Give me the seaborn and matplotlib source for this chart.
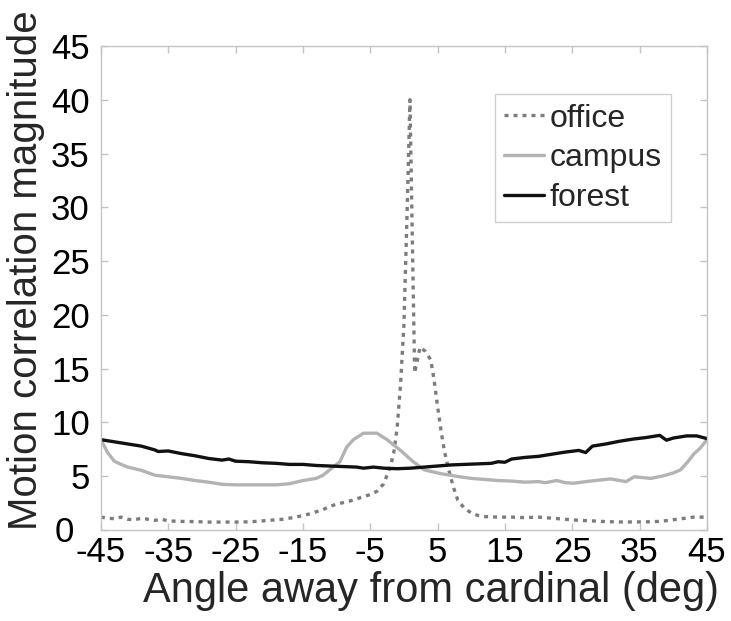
import matplotlib
matplotlib.use("Agg")
import matplotlib.pyplot as plt
import matplotlib.transforms as mtransforms
import seaborn as sns

# Angle samples (deg) and motion correlation magnitude for each scene type
office_angle = [-45, -44, -43, -42, -41, -40, -39, -38, -37, -36, -35, -33, -31, -29, -27,
                -25, -23, -22, -20, -18, -16, -14, -12, -11, -10, -9, -8, -7, -6, -5, -4,
                -3, -2, -1.5, -1, -0.5, 0, 0.5, 0.9, 1.6, 2.4, 3.2, 4.0, 4.5, 5.0, 5.5,
                6.0, 6.5, 7.0, 7.5, 8.0, 9.0, 10, 11, 12, 14, 16, 18, 20, 22, 24, 26, 28,
                30, 32, 34, 36, 38, 40, 41, 42, 43, 44, 45]
office_value = [1.2, 1.1, 1.05, 1.2, 1.0, 0.95, 1.1, 1.0, 0.9, 1.0, 0.85, 0.8, 0.78, 0.74, 0.74,
                0.74, 0.76, 0.8, 0.9, 1.0, 1.2, 1.5, 1.9, 2.2, 2.4, 2.55, 2.7, 2.9, 3.1, 3.3, 3.6,
                4.3, 5.9, 7.2, 9.5, 13.5, 19.0, 30.0, 40.0, 14.6, 17.0, 16.6, 15.8, 13.9, 11.5, 9.3,
                7.4, 6.0, 4.8, 3.7, 2.8, 2.0, 1.6, 1.35, 1.25, 1.2, 1.2, 1.15, 1.2, 1.1, 1.0, 0.9, 0.85,
                0.78, 0.75, 0.75, 0.76, 0.8, 0.95, 1.05, 1.1, 1.2, 1.2, 1.2]

campus_angle = [-45, -44, -43, -42, -41, -39, -37, -35, -33, -31, -29, -27, -25, -23, -21,
                -19, -17, -15, -13, -12, -11, -10, -9.5, -8.5, -7.5, -6, -4, -2.5, -0.5, 1.4,
                3, 5.4, 8.3, 10, 12, 14, 16, 18, 20, 21, 22.7, 24, 25.2, 27.7, 30.7, 33,
                34.2, 36.7, 38.6, 40, 41.1, 42.1, 43.1, 44, 45]
campus_value = [8.4, 7.2, 6.4, 6.1, 5.85, 5.55, 5.1, 4.95, 4.8, 4.6, 4.45, 4.25, 4.2, 4.2, 4.2,
                4.2, 4.3, 4.6, 4.8, 5.1, 5.6, 6.1, 6.35, 7.7, 8.4, 9.0, 9.0, 8.4, 7.4, 6.35,
                5.6, 5.25, 4.95, 4.8, 4.7, 4.6, 4.55, 4.45, 4.5, 4.4, 4.6, 4.4, 4.35, 4.55, 4.75, 4.5,
                4.95, 4.8, 5.05, 5.3, 5.6, 6.3, 7.1, 7.6, 8.4]

forest_angle = [-45, -43, -41, -39, -37, -36.5, -35, -33, -31, -29, -27, -26, -25, -23, -21,
                -19, -17, -15, -13, -11, -9, -7, -6, -4.5, -3, -1, 1, 3, 5, 7, 9, 11, 13, 14,
                15, 16, 18, 20, 22, 24, 26, 27, 28, 30, 32, 34, 36, 38, 39, 40, 42, 43.5, 45]
forest_value = [8.4, 8.2, 8.0, 7.8, 7.45, 7.3, 7.35, 7.1, 6.9, 6.65, 6.5, 6.6, 6.4, 6.35, 6.25,
                6.2, 6.1, 6.1, 6.0, 5.95, 5.9, 5.85, 5.75, 5.85, 5.75, 5.7, 5.75, 5.85, 5.95, 6.05,
                6.1, 6.15, 6.2, 6.35, 6.3, 6.6, 6.75, 6.85, 7.05, 7.25, 7.4, 7.2, 7.8, 8.0, 8.25,
                8.45, 8.6, 8.8, 8.35, 8.55, 8.75, 8.75, 8.5]

x_ticks = [-45, -35, -25, -15, -5, 5, 15, 25, 35, 45]
y_ticks = [0, 5, 10, 15, 20, 25, 30, 35, 40, 45]

sns.set_style("white")
plt.rcParams["font.family"] = ["Liberation Sans", "DejaVu Sans"]

fig = plt.figure(figsize=(7.31, 6.21), dpi=100)
ax = fig.add_axes([0.138, 0.1465, 0.829, 0.7795])

sns.lineplot(x=office_angle, y=office_value, ax=ax, color="#7c7c7c", lw=2.4,
             linestyle=(0, (1.2, 1.5)), label="office", sort=False, estimator=None)
sns.lineplot(x=campus_angle, y=campus_value, ax=ax, color="#b3b3b3", lw=2.4,
             label="campus", sort=False, estimator=None)
sns.lineplot(x=forest_angle, y=forest_value, ax=ax, color="#111111", lw=2.4,
             label="forest", sort=False, estimator=None)

ax.set_xlim(-45, 45)
ax.set_ylim(0, 45)
ax.set_xticks(x_ticks)
ax.set_yticks(y_ticks)
ax.set_xticklabels([str(t) for t in x_ticks])
ax.set_yticklabels([str(t) for t in y_ticks])

for side in ["top", "right", "bottom", "left"]:
    ax.spines[side].set_visible(True)
    ax.spines[side].set_color("#c4c4c4")
    ax.spines[side].set_linewidth(1.0)

ax.tick_params(axis="both", which="both", direction="in", length=5, width=1.0,
               color="#c4c4c4", labelcolor="black", labelsize=25,
               top=True, right=True, bottom=True, left=True)
ax.tick_params(axis="x", pad=4)
ax.tick_params(axis="y", pad=8)

# move the "0" label left so it sits clear of the "-45" label beside it
zero_label = ax.yaxis.get_major_ticks()[0].label1
zero_label.set_transform(zero_label.get_transform() +
                         mtransforms.ScaledTranslation(-11 / 72, 1 / 72, fig.dpi_scale_trans))

ax.set_xlabel("Angle away from cardinal (deg)", fontsize=30)
ax.set_ylabel("Motion correlation magnitude", fontsize=29)
ax.xaxis.set_label_coords(0.545, -0.085)
ax.yaxis.set_label_coords(-0.092, 0.537)

leg = ax.legend(loc="upper right", bbox_to_anchor=(0.9406, 0.9008), fontsize=23,
                frameon=True, fancybox=False, handlelength=1.25, handletextpad=0.15,
                borderpad=0.3, labelspacing=0.3, borderaxespad=0.0)
leg.get_frame().set_edgecolor("#c4c4c4")
leg.get_frame().set_linewidth(1.0)

fig.savefig("out.png", dpi=100)
